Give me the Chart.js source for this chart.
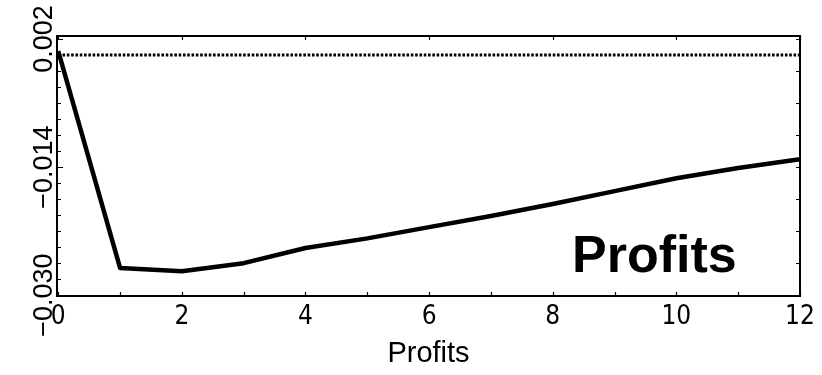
<!DOCTYPE html>
<html>
<head>
<meta charset="utf-8">
<script src="https://cdn.jsdelivr.net/npm/chart.js@4/dist/chart.umd.min.js"></script>
<style>
  html, body { margin: 0; padding: 0; background: #fff; }
  #wrap { width: 822px; height: 375px; }
</style>
</head>
<body>
<div id="wrap"><canvas id="c" width="822" height="375"></canvas></div>
<script>
// Profits response over the horizon
const periods = [0, 1, 2, 3, 4, 5, 6, 7, 8, 9, 10, 11, 12];
const profits = [0.0005, -0.0266, -0.0270, -0.0260, -0.0241, -0.0229, -0.0215, -0.0201, -0.0186, -0.0170, -0.0154, -0.0141, -0.0130];
// zero reference line
const zeroX = [0, 12];
const zeroY = [0, 0];
// axis ticks
const xTickValues = [0, 2, 4, 6, 8, 10, 12];
const xMinorValues = [1, 3, 5, 7, 9, 11];
const yTickValues = [0.002, -0.014, -0.030];
const yTickLabels = ['0.002', '-0.014', '-0.030'];
const yMinorStep = 0.002;
const yRightStep = 0.004;
const xTitle = 'Profits';
const panelLabel = 'Profits';

const ink = '#000';

const framePlugin = {
  id: 'frame',
  afterDraw(chart) {
    const ctx = chart.ctx;
    const a = chart.chartArea;
    const xs = chart.scales.x, ys = chart.scales.y;
    ctx.save();
    ctx.strokeStyle = ink;
    ctx.lineWidth = 2;
    ctx.strokeRect(a.left, a.top, a.right - a.left, a.bottom - a.top);

    ctx.lineWidth = 1.2;
    ctx.beginPath();
    // bottom ticks every unit, top ticks at labelled values
    xTickValues.concat(xMinorValues).forEach(v => {
      const px = Math.round(xs.getPixelForValue(v)) + 0.5;
      ctx.moveTo(px, a.bottom); ctx.lineTo(px, a.bottom - 4);
    });
    xTickValues.forEach(v => {
      const px = Math.round(xs.getPixelForValue(v)) + 0.5;
      ctx.moveTo(px, a.top); ctx.lineTo(px, a.top + 4);
    });
    // left ticks every 0.002, right ticks every 0.004
    for (let v = 0.002; v >= -0.0301; v -= yMinorStep) {
      const py = Math.round(ys.getPixelForValue(v)) + 0.5;
      const major = yTickValues.some(t => Math.abs(t - v) < 1e-6);
      ctx.moveTo(a.left, py); ctx.lineTo(a.left + (major ? 6 : 4), py);
    }
    for (let v = 0.002; v >= -0.0301; v -= yRightStep) {
      const py = Math.round(ys.getPixelForValue(v)) + 0.5;
      ctx.moveTo(a.right, py); ctx.lineTo(a.right - 4, py);
    }
    ctx.stroke();

    // rotated y tick labels
    ctx.fillStyle = ink;
    ctx.font = '27px "Liberation Sans", Arial, sans-serif';
    ctx.textAlign = 'center';
    ctx.textBaseline = 'alphabetic';
    yTickValues.forEach((v, i) => {
      const py = ys.getPixelForValue(v);
      ctx.save();
      ctx.translate(a.left - 5, py);
      ctx.rotate(-Math.PI / 2);
      ctx.fillText(yTickLabels[i].replace('-', '\u2212'), 0, 0);
      ctx.restore();
    });

    // panel label
    ctx.font = 'bold 52px "Liberation Sans", Arial, sans-serif';
    ctx.textAlign = 'left';
    ctx.fillText(panelLabel, a.right - 228, a.bottom - 24);
    ctx.restore();
  }
};

new Chart(document.getElementById('c'), {
  type: 'line',
  data: {
    datasets: [
      {
        data: zeroX.map((x, i) => ({ x, y: zeroY[i] })),
        borderColor: ink,
        borderWidth: 3,
        borderDash: [2.6, 1.7],
        borderCapStyle: 'butt',
        pointRadius: 0,
        tension: 0
      },
      {
        data: periods.map((x, i) => ({ x, y: profits[i] })),
        borderColor: ink,
        borderWidth: 4.5,
        borderJoinStyle: 'round',
        pointRadius: 0,
        tension: 0
      }
    ]
  },
  options: {
    responsive: false,
    animation: false,
    events: [],
    layout: { padding: { left: 57, right: 22, top: 36, bottom: 0 } },
    plugins: { legend: { display: false }, tooltip: { enabled: false } },
    scales: {
      x: {
        type: 'linear',
        min: -0.02,
        max: 12,
        grid: { display: false, drawTicks: false },
        border: { display: false },
        afterBuildTicks: s => { s.ticks = xTickValues.map(v => ({ value: v })); },
        afterFit: s => { s.height = 79; },
        ticks: {
          color: ink,
          padding: 6,
          maxRotation: 0,
          autoSkip: false,
          font: { family: '"Liberation Sans Narrow", "DejaVu Sans Condensed", "Liberation Sans", sans-serif', size: 26 }
        },
        title: {
          display: true,
          text: xTitle,
          color: ink,
          padding: { top: 0, bottom: 4 },
          font: { family: '"Liberation Sans", Arial, sans-serif', size: 29, lineHeight: 1.2 }
        }
      },
      y: {
        type: 'linear',
        display: false,
        min: -0.0301,
        max: 0.00238
      }
    }
  },
  plugins: [framePlugin]
});
</script>
</body>
</html>
